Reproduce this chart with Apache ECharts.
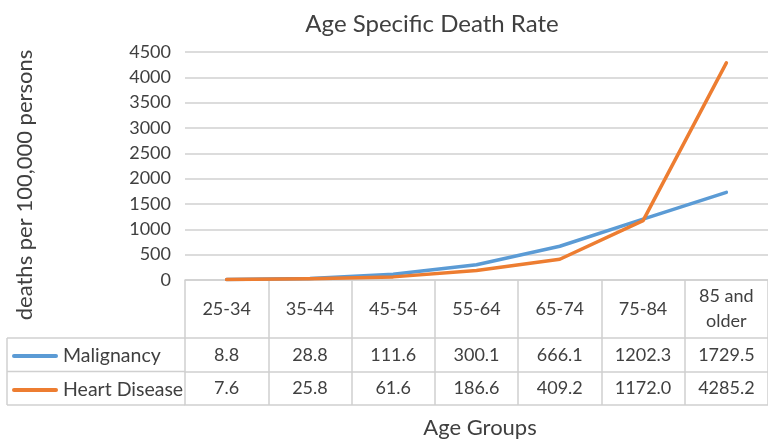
<!DOCTYPE html>
<html>
<head>
<meta charset="utf-8">
<script src="https://cdn.jsdelivr.net/npm/echarts@6/dist/echarts.min.js"></script>
<style>
  html, body { margin: 0; padding: 0; background: #ffffff; }
  #chart { width: 768px; height: 440px; }
</style>
</head>
<body>
<div id="chart"></div>
<script>
// Age groups and death rates per 100,000 persons
const ageGroups = ['25-34', '35-44', '45-54', '55-64', '65-74', '75-84', '85 and\nolder'];
const malignancy = [8.8, 28.8, 111.6, 300.1, 666.1, 1202.3, 1729.5];
const heartDisease = [7.6, 25.8, 61.6, 186.6, 409.2, 1172.0, 4285.2];
const seriesNames = ['Malignancy', 'Heart Disease'];

const FONT = 'Lato';
const TEXT = '#404040';
const RULE = '#d0d0d0';

const gridLeft = 185, gridTop = 52, gridWidth = 588, gridHeight = 228;
const headerH = 58, rowH = 33.5;
const tableLeft = 7;
const axisY = gridTop + gridHeight;

// rounded-end stroke used as the key swatch in the table
const keyIcon = 'path://M2,0H44A2,2,0,0,1,44,4H2A2,2,0,0,1,2,0Z';

const chart = echarts.init(document.getElementById('chart'), null, { renderer: 'canvas' });

function rowAxis(offset, values, showLabel) {
  return {
    type: 'category',
    data: ageGroups,
    position: 'bottom',
    gridIndex: 0,
    offset: offset,
    axisLine: { show: true, lineStyle: { color: RULE, width: 1.5 } },
    axisTick: { show: false },
    axisLabel: {
      show: showLabel,
      interval: 0,
      margin: rowH / 2,
      verticalAlign: 'middle',
      fontFamily: FONT,
      fontSize: 18,
      color: TEXT,
      formatter: (v, i) => values ? values[i].toFixed(1) : ''
    }
  };
}

chart.setOption({
  animation: false,
  backgroundColor: '#ffffff',
  color: ['#5b9bd5', '#ed7d31'],
  title: {
    text: 'Age Specific Death Rate',
    left: 427,
    top: 7,
    textAlign: 'center',
    textStyle: { fontFamily: FONT, fontSize: 24, fontWeight: 'normal', color: TEXT }
  },
  legend: {
    orient: 'vertical',
    left: 12,
    top: axisY + headerH + 8,
    padding: 0,
    icon: keyIcon,
    itemWidth: 46,
    itemHeight: 4,
    itemGap: 14,
    data: seriesNames,
    textStyle: { fontFamily: FONT, fontSize: 19.5, lineHeight: 19.5, color: TEXT }
  },
  grid: { left: gridLeft, top: gridTop, width: gridWidth, height: gridHeight },
  xAxis: [
    {
      type: 'category',
      data: ageGroups,
      position: 'bottom',
      boundaryGap: true,
      axisLine: { show: true, lineStyle: { color: RULE, width: 1.5 } },
      axisTick: {
        show: true,
        interval: 0,
        length: headerH + 2 * rowH,
        lineStyle: { color: RULE, width: 1.5 }
      },
      axisLabel: {
        interval: 0,
        margin: headerH / 2,
        verticalAlign: 'middle',
        lineHeight: 25,
        fontFamily: FONT,
        fontSize: 18,
        color: TEXT
      }
    },
    rowAxis(headerH, malignancy, true),
    rowAxis(headerH + rowH, heartDisease, true),
    rowAxis(headerH + 2 * rowH, null, false)
  ],
  yAxis: {
    type: 'value',
    min: 0,
    max: 4500,
    interval: 500,
    axisLine: { show: false },
    axisTick: { show: false },
    splitLine: { lineStyle: { color: RULE, width: 1.5 } },
    axisLabel: { margin: 14, fontFamily: FONT, fontSize: 18, color: TEXT, formatter: v => String(v) }
  },
  series: [
    {
      name: seriesNames[0],
      type: 'line',
      data: malignancy,
      symbol: 'none',
      lineStyle: { width: 3.5, cap: 'round', join: 'round' }
    },
    {
      name: seriesNames[1],
      type: 'line',
      data: heartDisease,
      symbol: 'none',
      lineStyle: { width: 3.5, cap: 'round', join: 'round' }
    }
  ],
  graphic: [
    // left-hand column of the data table (series key cells)
    { type: 'line', shape: { x1: tableLeft, y1: axisY + headerH, x2: gridLeft, y2: axisY + headerH }, style: { stroke: RULE, lineWidth: 1.5 } },
    { type: 'line', shape: { x1: tableLeft, y1: axisY + headerH + rowH, x2: gridLeft, y2: axisY + headerH + rowH }, style: { stroke: RULE, lineWidth: 1.5 } },
    { type: 'line', shape: { x1: tableLeft, y1: axisY + headerH + 2 * rowH, x2: gridLeft, y2: axisY + headerH + 2 * rowH }, style: { stroke: RULE, lineWidth: 1.5 } },
    { type: 'line', shape: { x1: tableLeft, y1: axisY + headerH, x2: tableLeft, y2: axisY + headerH + 2 * rowH }, style: { stroke: RULE, lineWidth: 1.5 } },
    // axis titles
    {
      type: 'text',
      x: 25, y: 185, rotation: Math.PI / 2,
      style: { text: 'deaths per 100,000 persons', fontFamily: FONT, fontSize: 22, fill: TEXT, align: 'center', verticalAlign: 'middle' }
    },
    {
      type: 'text',
      x: 480, y: 428,
      style: { text: 'Age Groups', fontFamily: FONT, fontSize: 22, fill: TEXT, align: 'center', verticalAlign: 'middle' }
    }
  ]
});
</script>
</body>
</html>
